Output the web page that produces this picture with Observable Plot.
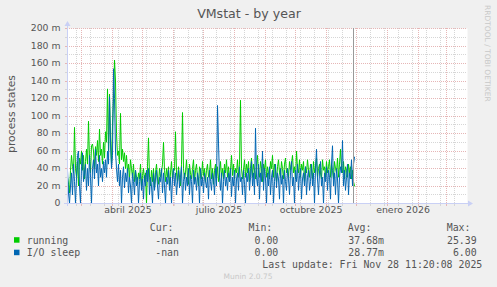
<!DOCTYPE html>
<html><head><meta charset="utf-8">
<script src="https://cdn.jsdelivr.net/npm/d3@7"></script>
<script src="https://cdn.jsdelivr.net/npm/@observablehq/plot@0.6"></script>
<style>
html,body{margin:0;padding:0;background:#f0f0f0;}
svg{display:block}
</style></head><body><div id="chart"></div>
<script>
// ---- data (daily values in milli-units, first day = startDate) ----
const startDate = [2025, 1, 15]; // 15 Feb 2025 (UTC)
const running = [
30,22,12,38,55,42,35,87,40,30,48,20,52,45,60,38,55,28,48,62,
45,94,50,35,66,68,60,40,65,55,72,48,85,55,62,45,70,52,82,70,
131,60,125,75,45,90,120,164,140,80,55,60,45,103,50,62,48,58,40,55,
35,45,28,50,40,30,45,25,38,30,22,35,28,45,20,32,40,25,35,0,
42,75,30,20,38,25,40,18,35,45,28,22,40,30,35,45,70,38,25,40,
30,42,20,35,48,28,40,38,82,35,25,42,30,20,45,104,40,28,35,50,
30,22,45,35,28,40,50,25,38,45,30,20,42,35,28,48,32,40,25,38,
45,30,35,50,28,40,22,38,45,30,42,25,35,48,30,40,28,45,35,50,
30,42,25,38,55,32,45,28,40,35,50,30,45,118,40,28,38,50,30,45,
35,48,25,40,52,30,45,38,28,42,55,35,30,48,40,25,45,38,50,30,
42,35,28,48,40,55,30,45,38,25,42,50,35,30,48,40,28,45,52,35,
40,30,48,38,45,55,35,42,28,60,40,35,50,30,45,38,48,25,42,35,
50,38,30,45,40,28,48,35,42,52,30,40,45,35,28,50,38,42,30,48,
35,42,50,30,45,38,28,48,40,35,52,30,45,62,40,35,48,28,42,38,
30,45,35,42,28,38,25,20];
const ioSleep = [
38,12,0,20,35,10,45,25,0,30,55,60,20,0,42,58,25,35,45,15,
40,20,55,30,0,40,50,28,62,35,45,20,55,30,40,25,48,35,50,30,
60,45,122,70,40,55,154,120,60,40,25,45,20,38,0,30,42,18,35,25,
40,12,30,20,0,35,25,10,38,20,30,0,25,35,15,28,5,32,20,38,
25,40,10,30,20,0,35,15,28,38,20,5,30,25,40,12,35,20,0,30,
22,38,15,30,0,28,40,20,35,10,25,38,18,30,42,0,25,35,15,30,
20,40,10,32,25,0,38,22,30,15,35,28,0,40,20,30,12,35,25,18,
30,5,38,25,15,35,28,10,40,20,112,69,30,15,35,0,25,38,20,30,
15,35,25,40,8,30,20,38,0,28,35,15,42,25,30,10,38,22,0,35,
25,40,15,30,48,20,35,10,86,30,20,45,5,35,25,60,15,40,28,0,
35,20,42,10,30,38,0,25,45,18,35,28,5,40,22,32,0,38,25,15,
40,28,10,35,48,20,30,0,38,25,45,15,32,40,5,28,35,20,42,10,
30,38,15,25,45,20,35,0,40,62,28,10,36,48,20,30,0,35,25,42,
15,38,30,5,45,66,20,35,10,40,28,0,30,42,35,72,20,38,15,30,
45,10,35,28,50,20,45,53];
const seriesNames = ["running", "I/O sleep"];
const seriesColors = ["#00cc00", "#0066b3"];
const curValues = ["-nan", "-nan"];
const minValues = ["0.00", "0.00"];
const avgValues = ["37.68m", "28.77m"];
const maxValues = ["25.39", "6.00"];
const yMajor = [0,20,40,60,80,100,120,140,160,180,200];
const yMinor = [10,30,50,70,90,110,130,150,170,190];
const yLabels = ["0","20 m","40 m","60 m","80 m","100 m","120 m","140 m","160 m","180 m","200 m"];
const xLabelDates = ["2025-04-16T12:00Z","2025-07-16T12:00Z","2025-10-16T12:00Z","2026-01-16T12:00Z"];
const xLabels = ["abril 2025","julio 2025","octubre 2025","enero 2026"];
const xDomain = ["2025-02-15T00:00Z","2026-03-22T00:00Z"];
const nowTime = "2025-11-28T11:20Z";
const titleText = "VMstat - by year";
const yAxisTitle = "process states";
const lastUpdate = "Last update: Fri Nov 28 11:20:08 2025";

// ---- build tables ----
const day = i => new Date(Date.UTC(startDate[0], startDate[1], startDate[2] + i));
const rows = [];
running.forEach((v, i) => rows.push({date: day(i), value: v, series: seriesNames[0]}));
ioSleep.forEach((v, i) => rows.push({date: day(i), value: v, series: seriesNames[1]}));
const dom = xDomain.map(d => new Date(d));
const monthStarts = d3.utcMonth.range(d3.utcMonth.ceil(dom[0]), dom[1]);
const minorX = d3.range(0, 400, 14).map(k => new Date(Date.UTC(2025, 1, 24 + k))).filter(d => d < dom[1]);

const gridGray = "#d6d6d6", gridRed = "#e6b6b6", axisCol = "#c9d0f5";
const W = 497, H = 287, ML = 67, MR = 30, MT = 28, MB = 84;

const chart = Plot.plot({
  width: W, height: H,
  marginLeft: ML, marginRight: MR, marginTop: MT, marginBottom: MB,
  style: {background: "#f0f0f0", overflow: "visible"},
  x: {type: "utc", domain: dom, axis: null},
  y: {type: "linear", domain: [0, 200], axis: null},
  color: {domain: seriesNames, range: seriesColors},
  marks: [
    Plot.frame({fill: "white", stroke: null}),
    Plot.ruleY(yMinor, {stroke: gridGray, strokeDasharray: "1,1", shapeRendering: "crispEdges"}),
    Plot.ruleX(minorX, {stroke: gridGray, strokeDasharray: "1,1", shapeRendering: "crispEdges"}),
    Plot.ruleY(yMajor, {stroke: gridRed, strokeDasharray: "1,1", shapeRendering: "crispEdges"}),
    Plot.ruleX(monthStarts, {stroke: gridRed, strokeDasharray: "1,1", shapeRendering: "crispEdges"}),
    Plot.line(rows, {x: "date", y: "value", stroke: "series", strokeWidth: 1, z: "series"}),
    Plot.ruleX([new Date(nowTime)], {stroke: "#999999", strokeWidth: 1, shapeRendering: "crispEdges"}),
    Plot.text(yMajor, {y: d => d, text: (d, i) => yLabels[i], frameAnchor: "left", dx: -7, textAnchor: "end",
      fontFamily: "DejaVu Sans", fontSize: 9.3, fill: "#555"}),
    Plot.text(xLabelDates, {x: d => new Date(d), text: (d, i) => xLabels[i], frameAnchor: "bottom", dy: 9.5,
      fontFamily: "DejaVu Sans", fontSize: 9.4, fill: "#555"})
  ]
});
document.getElementById("chart").appendChild(chart);

const svg = d3.select(chart);
const xs = chart.scale("x"), ys = chart.scale("y");
const y0 = Math.round(ys.apply(0)), x0 = ML, x1 = W - MR;
// small ticks
const tickG = svg.append("g").attr("shape-rendering", "crispEdges");
minorX.forEach(d => { const x = Math.round(xs.apply(d)) + 0.5;
  tickG.append("line").attr("x1", x).attr("x2", x).attr("y1", y0).attr("y2", y0 + 3).attr("stroke", gridGray); });
monthStarts.forEach(d => { const x = Math.round(xs.apply(d)) + 0.5;
  tickG.append("line").attr("x1", x).attr("x2", x).attr("y1", y0).attr("y2", y0 + 3).attr("stroke", gridRed); });
yMinor.forEach(v => { const y = Math.round(ys.apply(v)) + 0.5;
  tickG.append("line").attr("x1", x0 - 2).attr("x2", x0).attr("y1", y).attr("y2", y).attr("stroke", gridGray); });
yMajor.forEach(v => { const y = Math.round(ys.apply(v)) + 0.5;
  tickG.append("line").attr("x1", x0 - 2).attr("x2", x0).attr("y1", y).attr("y2", y).attr("stroke", gridRed); });
// axes with arrows
svg.append("line").attr("x1", x0 - 3).attr("x2", x1 + 2).attr("y1", y0 + 0.5).attr("y2", y0 + 0.5)
  .attr("stroke", axisCol).attr("stroke-width", 1);
svg.append("line").attr("x1", x0 + 0.5).attr("x2", x0 + 0.5).attr("y1", y0 + 3).attr("y2", MT - 5)
  .attr("stroke", axisCol).attr("stroke-width", 1);
svg.append("path").attr("d", `M${x1+1},${y0-2.5}L${x1+6},${y0+0.5}L${x1+1},${y0+3.5}Z`).attr("fill", axisCol);
svg.append("path").attr("d", `M${x0-2.5},${MT-2}L${x0+0.5},${MT-7}L${x0+3.5},${MT-2}Z`).attr("fill", axisCol);

const mono = "DejaVu Sans Mono", sans = "DejaVu Sans", txt = "#555";
svg.append("text").attr("x", 249).attr("y", 18).attr("text-anchor", "middle")
  .attr("font-family", sans).attr("font-size", 12.6).attr("fill", txt).text(titleText);
svg.append("text").attr("transform", "translate(15,114) rotate(-90)").attr("text-anchor", "middle")
  .attr("font-family", sans).attr("font-size", 10.8).attr("fill", txt).text(yAxisTitle);
svg.append("text").attr("transform", "translate(485,5) rotate(90)").attr("text-anchor", "start")
  .attr("font-family", sans).attr("font-size", 7.5).attr("fill", "#c8c8c8").text("RRDTOOL / TOBI OETIKER");
svg.append("text").attr("x", 248).attr("y", 278.5).attr("text-anchor", "middle")
  .attr("font-family", sans).attr("font-size", 7.5).attr("fill", "#c8c8c8").text("Munin 2.0.75");

// legend
const hdrY = 231, rowY = [243.5, 256], fs = 9.9;
const T = (x, y, s, anchor) => svg.append("text").attr("x", x).attr("y", y).attr("text-anchor", anchor || "start")
  .attr("font-family", mono).attr("font-size", fs).attr("fill", txt).attr("xml:space", "preserve").text(s);
T(149.7, hdrY, "Cur:"); T(248.5, hdrY, "Min:"); T(347.7, hdrY, "Avg:"); T(446.7, hdrY, "Max:");
seriesNames.forEach((n, i) => {
  svg.append("rect").attr("x", 14).attr("y", rowY[i] - 6.3).attr("width", 5.5).attr("height", 5.5).attr("fill", seriesColors[i]);
  T(26.7, rowY[i], n);
  T(179, rowY[i], curValues[i], "end");
  T(278.3, rowY[i], minValues[i], "end");
  T(384, rowY[i], avgValues[i], "end");
  T(476.7, rowY[i], maxValues[i], "end");
});
T(482.3, 267.5, lastUpdate, "end");
</script></body></html>
